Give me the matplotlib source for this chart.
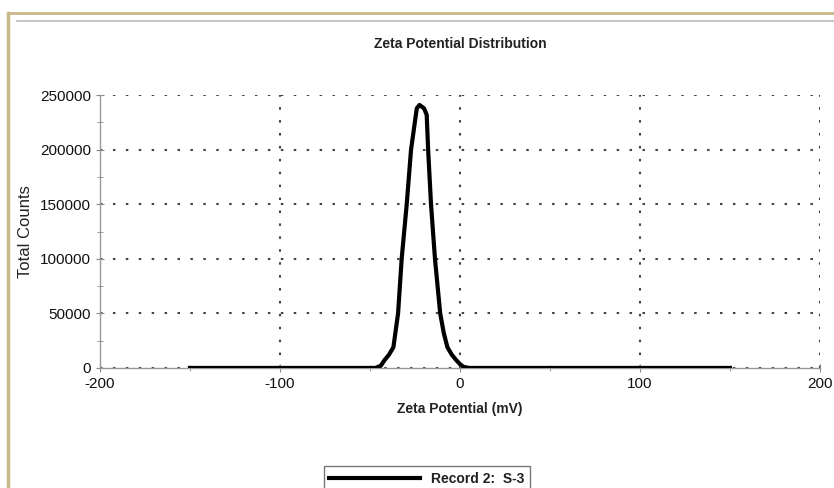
import matplotlib
matplotlib.use("Agg")
import matplotlib.pyplot as plt
from matplotlib.lines import Line2D
from matplotlib.ticker import MultipleLocator

plt.rcParams['font.family'] = ['Liberation Sans', 'DejaVu Sans']
plt.rcParams['axes.unicode_minus'] = False

# Zeta potential distribution
zeta_mv = [-150, -47, -44, -42, -39.5, -37, -34.4, -32.4, -29.6, -27.2, -24, -22.5,
           -20, -18.5, -17.7, -16.1, -13.9, -11, -9, -7, -4.5, -2, 0, 2, 5, 150]
total_counts = [0, 0, 2000, 7000, 12000, 19000, 50000, 100000, 150000, 200000, 238000,
                241000, 238000, 232000, 200000, 150000, 100000, 50000, 32000, 19000,
                12000, 7000, 3500, 1000, 0, 0]

x_ticks = [-200, -100, 0, 100, 200]
y_ticks = [0, 50000, 100000, 150000, 200000, 250000]

fig = plt.figure(figsize=(8.34, 4.88), dpi=100)
ax = fig.add_axes([0.1199, 0.246, 0.8633, 0.559])

ax.plot(zeta_mv, total_counts, color='black', lw=3, solid_joinstyle='round',
        label='Record 2:  S-3', zorder=3)

ax.set_xlim(-200, 200)
ax.set_ylim(0, 250000)
ax.set_xticks(x_ticks)
ax.set_yticks(y_ticks)
ax.xaxis.set_minor_locator(MultipleLocator(50))
ax.yaxis.set_minor_locator(MultipleLocator(25000))
ax.tick_params(axis='both', which='both', direction='inout', color='#888888',
               labelsize=11, labelcolor='#111111')
ax.tick_params(which='major', length=6)
ax.tick_params(which='minor', length=4)

ax.grid(True, which='major', linestyle=(0, (1.2, 5)), color='#444444', lw=1.5)
ax.spines['top'].set_visible(False)
ax.spines['right'].set_visible(False)
for s in ('left', 'bottom'):
    ax.spines[s].set_color('#999999')
    ax.spines[s].set_linewidth(1)

ax.set_title('Zeta Potential Distribution', fontsize=10, fontweight='bold',
             color='#222222', pad=34)
ax.set_xlabel('Zeta Potential (mV)', fontsize=10, fontweight='bold',
              color='#222222', labelpad=8)
ax.set_ylabel('Total Counts', fontsize=12, color='#222222', labelpad=5)

leg = ax.legend(loc='upper center', bbox_to_anchor=(0.454, -0.335), fancybox=False,
                edgecolor='#777777', handlelength=6.5, fontsize=10,
                borderpad=0.4, framealpha=1)
leg.get_frame().set_linewidth(1)
for t in leg.get_texts():
    t.set_fontweight('bold')
    t.set_color('#222222')

# page frame decoration
fig.add_artist(Line2D([0.0096, 0.0096], [0, 0.973], color='#c8b88a', lw=2.5,
                      transform=fig.transFigure))
fig.add_artist(Line2D([0.0096, 1], [0.973, 0.973], color='#c8b88a', lw=2,
                      transform=fig.transFigure))
fig.add_artist(Line2D([0.02, 1], [0.957, 0.957], color='#bbbbbb', lw=1.2,
                      transform=fig.transFigure))

fig.savefig('out.png', dpi=100, facecolor='white')
